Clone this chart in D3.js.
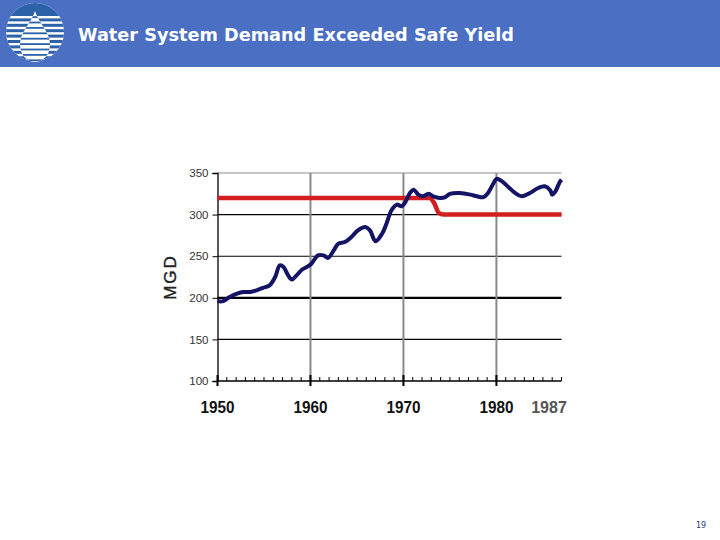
<!DOCTYPE html>
<html><head><meta charset="utf-8">
<script src="https://cdn.jsdelivr.net/npm/d3@7"></script>
<style>html,body{margin:0;padding:0;background:#fff;}svg{display:block;}</style>
</head><body>
<script>
const titleText = "Water System Demand Exceeded Safe Yield";
const yAxisLabel = "MGD";
const pageNumber = "19";
const yTicks = [100, 150, 200, 250, 300, 350];
const xTickYears = [1950, 1960, 1970, 1980];
const xEndLabel = 1987;
const demandYears = [1950.0,1950.6,1951.3,1952.1,1952.8,1953.5,1954.2,1954.9,1955.6,1956.2,1956.7,1957.1,1957.6,1958.0,1958.5,1959.1,1959.6,1960.1,1960.8,1961.4,1961.9,1962.5,1963.0,1963.7,1964.4,1965.1,1965.9,1966.4,1967.0,1967.7,1968.2,1968.7,1969.3,1969.8,1970.2,1970.7,1971.1,1971.6,1972.1,1972.7,1973.2,1973.9,1974.5,1975.0,1976.1,1977.2,1977.9,1978.6,1979.1,1979.7,1980.0,1980.6,1981.3,1982.0,1982.7,1983.6,1984.5,1985.2,1985.8,1986.0,1986.3,1986.8,1987.0];
const demandValues = [196,196,201,205,207,207,209,212,215,225,239,237,227,222,227,234,237,241,251,251,248,257,265,267,273,281,285,281,268,277,290,305,312,310,315,326,330,324,322,325,322,320,321,325,326,324,322,321,326,338,343,340,333,326,322,326,332,334,329,324,327,339,342];
const yieldYears = [1950, 1972.8, 1973.3, 1973.8, 1974.3, 1987];
const yieldValues = [320, 320, 314, 302, 300, 300];

const W = 720, H = 540;
const svg = d3.select("body").append("svg").attr("width", W).attr("height", H);

// header bar
svg.append("rect").attr("x",0).attr("y",0).attr("width",W).attr("height",67).attr("fill","#4a6fc3");
// logo
const logo = svg.append("g").attr("transform","translate(35,32)");
const defs = svg.append("defs");
defs.append("clipPath").attr("id","logoclip").append("circle").attr("r",29);
defs.append("clipPath").attr("id","dropclip").append("path")
  .attr("d","M0,-21 C3,-10 15,0 15,12 C15,24 7,30 0,30 C-7,30 -15,24 -15,12 C-15,0 -3,-10 0,-21 Z");
const lg = logo.append("g").attr("clip-path","url(#logoclip)");
lg.append("rect").attr("x",-30).attr("y",-30).attr("width",60).attr("height",60).attr("fill","#ffffff");
lg.append("rect").attr("x",-30).attr("y",-30).attr("width",60).attr("height",14).attr("fill","#2c62a8");
for (let i=-16;i<30;i+=5.4){ lg.append("rect").attr("x",-30).attr("y",i+2.4).attr("width",60).attr("height",3).attr("fill","#2c62a8"); }
const dg = logo.append("g").attr("clip-path","url(#dropclip)");
dg.append("rect").attr("x",-16).attr("y",-22).attr("width",32).attr("height",53).attr("fill","#ffffff");
for (let i=-16;i<30;i+=5.4){ dg.append("rect").attr("x",-16).attr("y",i+0.2).attr("width",32).attr("height",1.8).attr("fill","#2c62a8"); }

svg.append("text").attr("x",78).attr("y",41).attr("fill","#ffffff")
  .attr("font-family","'DejaVu Sans', Verdana, sans-serif").attr("font-weight","bold")
  .attr("font-size",18).attr("textLength",436).attr("lengthAdjust","spacingAndGlyphs")
  .text(titleText);

// scales
const x = d3.scaleLinear().domain([1950, 1987]).range([217.5, 561.5]);
const y = d3.scaleLinear().domain([100, 350]).range([381, 173]);

const g = svg.append("g");
// horizontal grid
yTicks.filter(v=>v>100).forEach(v=>{
  g.append("line").attr("x1",x(1950)).attr("x2",x(1987)).attr("y1",y(v)).attr("y2",y(v))
   .attr("stroke", v===350 ? "#8c8c8c" : "#000").attr("stroke-width", v===200 ? 2.2 : (v===350?1.2:1.1));
});
// vertical grid
xTickYears.filter(v=>v>1950).forEach(v=>{
  g.append("line").attr("x1",x(v)).attr("x2",x(v)).attr("y1",y(350)).attr("y2",y(100))
   .attr("stroke","#8a8a8a").attr("stroke-width",2);
});

// y axis
const yAxis = d3.axisLeft(y).tickValues(yTicks).tickSize(5).tickPadding(4);
const ya = svg.append("g").attr("transform",`translate(${x(1950)},0)`).call(yAxis);
ya.select(".domain").attr("stroke","#000").attr("stroke-width",1.3);
ya.selectAll(".tick line").attr("stroke","#000");
ya.selectAll(".tick text").attr("font-family","'Liberation Sans', Arial, sans-serif").attr("font-size",11.5).attr("fill","#333");

// x axis minor ticks
const years = d3.range(1950, 1988);
const xa = svg.append("g").attr("transform",`translate(0,${y(100)})`);
xa.append("line").attr("x1",x(1950)).attr("x2",x(1987)).attr("y1",0).attr("y2",0).attr("stroke","#000").attr("stroke-width",1.5);
years.forEach(yr=>{
  const major = yr % 10 === 0;
  xa.append("line").attr("x1",x(yr)).attr("x2",x(yr)).attr("y1", major ? 5 : 0).attr("y2", major ? -6 : -4)
    .attr("stroke","#000").attr("stroke-width", major ? 2 : 1);
});
// x labels
xTickYears.forEach(v=>{
  svg.append("text").attr("x",x(v)).attr("y",413).attr("text-anchor","middle")
    .attr("font-family","'Liberation Sans', Arial, sans-serif").attr("font-weight","bold").attr("font-size",16)
    .attr("textLength",34).attr("lengthAdjust","spacingAndGlyphs").attr("fill","#111").text(v);
});
svg.append("text").attr("x",549).attr("y",413).attr("text-anchor","middle")
  .attr("font-family","'Liberation Sans', Arial, sans-serif").attr("font-weight","bold").attr("font-size",16)
  .attr("fill","#555").text(xEndLabel);

// y label
svg.append("text").attr("transform","translate(176,277) rotate(-90)").attr("text-anchor","middle")
  .attr("font-family","'Liberation Sans', Arial, sans-serif").attr("font-size",17).attr("letter-spacing",2)
  .attr("stroke","#222").attr("stroke-width",0.4).attr("fill","#222").text(yAxisLabel);

// lines
const line = d3.line().x(d=>x(d[0])).y(d=>y(d[1]));
svg.append("path").datum(yieldYears.map((t,i)=>[t,yieldValues[i]]))
  .attr("d", line.curve(d3.curveMonotoneX)).attr("fill","none").attr("stroke","#d21e1e").attr("stroke-width",4.5);
svg.append("path").datum(demandYears.map((t,i)=>[t,demandValues[i]]))
  .attr("d", d3.line().x(d=>x(d[0])).y(d=>y(d[1])).curve(d3.curveCatmullRom)).attr("fill","none")
  .attr("stroke","#141466").attr("stroke-width",4).attr("stroke-linejoin","round");

// page number
svg.append("text").attr("x",701).attr("y",528).attr("text-anchor","middle")
  .attr("font-family","'DejaVu Sans', sans-serif").attr("font-size",8).attr("fill","#1f3a7a").text(pageNumber);
</script>
</body></html>
